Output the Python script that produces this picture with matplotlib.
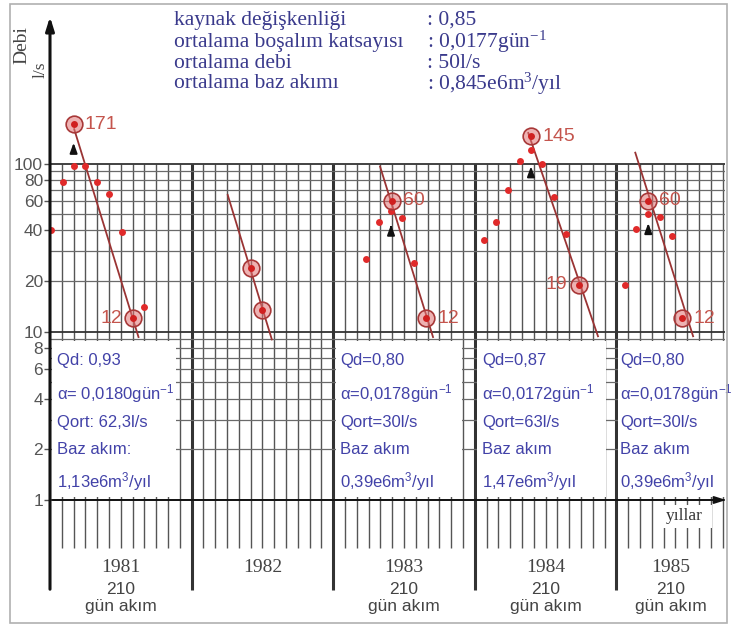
import numpy as np
import matplotlib
matplotlib.use("Agg")
import matplotlib.pyplot as plt
from matplotlib.patches import Rectangle

plt.rcParams['mathtext.default'] = 'regular'

# ---------------- data ----------------
years = ['1981', '1982', '1983', '1984', '1985']
year_note = ['210\ngün akım', '', '210\ngün akım', '210\ngün akım', '210\ngün akım']

# months counted from the start of 1981
dot_month = [0.1, 1.1, 2.0, 3.0, 4.0, 5.0, 6.1, 8.0,
             26.8, 27.9, 28.9, 29.8, 30.85,
             36.8, 37.8, 38.84, 39.83, 40.76, 41.7, 42.7, 43.7,
             48.7, 49.7, 50.7, 51.7, 52.7]
dot_value = [40, 78, 97, 96, 78, 66, 39, 14.1,
             27, 45, 52, 47.5, 25.6,
             35, 45, 70, 103, 120, 99, 63, 38,
             19, 41, 50, 48, 37]

circle_month = [2.0, 7.05, 17.0, 18.0, 28.96, 31.9, 40.76, 44.8, 50.7, 53.6]
circle_value = [171, 12, 24, 13.5, 60, 12, 145, 19, 60, 12]
circle_label = ['171', '12', '', '', '60', '12', '145', '19', '60', '12']
label_side = ['right', 'left', '', '', 'right', 'right', 'right', 'left', 'right', 'right']

line_start_month = [2.05, 15.06, 27.97, 40.53, 49.6]
line_start_value = [160, 65, 96, 152, 116]
line_end_month = [7.5, 18.8, 32.46, 46.44, 54.5]
line_end_value = [9.3, 9.0, 9.3, 9.4, 9.4]

arrow_month = [2.0, 28.9, 40.76, 50.7]
arrow_from = [112, 39, 83, 38.5]
arrow_to = [138, 45, 100, 46]

summary_labels = ['kaynak değişkenliği', 'ortalama boşalım katsayısı',
                  'ortalama debi', 'ortalama baz akımı']
summary_values = [': 0,85', ': 0,0177gün$^{-1}$', ': 50l/s', ': 0,845e6m$^{3}$/yıl']

box_year = [0, 2, 3, 4]
box_qd = ['Qd: 0,93', 'Qd=0,80', 'Qd=0,87', 'Qd=0,80']
box_alpha = ['α= 0,0180gün$^{-1}$', 'α=0,0178gün$^{-1}$', 'α=0,0172gün$^{-1}$', 'α=0,0178gün$^{-1}$']
box_qort = ['Qort: 62,3l/s', 'Qort=30l/s', 'Qort=63l/s', 'Qort=30l/s']
box_baz = ['Baz akım:', 'Baz akım', 'Baz akım', 'Baz akım']
box_bazval = ['1,13e6m$^{3}$/yıl', '0,39e6m$^{3}$/yıl', '1,47e6m$^{3}$/yıl', '0,39e6m$^{3}$/yıl']

ytick_values = [1, 2, 4, 6, 8, 10, 20, 40, 60, 80, 100]
ytick_labels = ['1', '2', '4', '6', '8', '10', '20', '40', '60', '80', '100']

# ---------------- layout ----------------
W, H, DPI = 733, 628, 100
X0, MPX, NM = 50.0, 11.8, 57.2      # px of month 0, px per month, months shown
Y100, DEC = 163.5, 168.25           # px of value 100, px per decade
SERIF = 'Liberation Serif'
SANS = 'Liberation Sans'
BLUE_TOP = '#3a3a8c'
BLUE_BOX = '#4242a8'
RED_TXT = '#c4554d'

def val_at(py):
    return 10 ** (2 - (py - Y100) / DEC)

def month_at(px):
    return (px - X0) / MPX

def fx(px):
    return px / W

def fy(py):
    return 1 - py / H

fig = plt.figure(figsize=(W / DPI, H / DPI), dpi=DPI)
fig.patch.set_facecolor('white')
AX_T, AX_B = 8, 600
ax = fig.add_axes([fx(X0), fy(AX_B), (NM * MPX) / W, (AX_B - AX_T) / H])
ax.set_yscale('log')
ax.set_xlim(0, NM)
ax.set_ylim(val_at(AX_B), val_at(AX_T))
for s in ax.spines.values():
    s.set_visible(False)
ax.set_facecolor('none')
ax.set_xticks([])
ax.yaxis.set_minor_locator(matplotlib.ticker.NullLocator())
ax.set_yticks(ytick_values)
ax.set_yticklabels(ytick_labels, fontfamily=SANS, fontsize=12.5, color='#555555')
ax.tick_params(axis='y', length=4, width=1, color='#555555', pad=1)

# frame
fig.add_artist(Rectangle((fx(10), fy(623)), (727 - 10) / W, (623 - 4) / H,
                         transform=fig.transFigure, fill=False, ec='#b0b0b0', lw=1.2))

# ---------------- grid ----------------
n_months = int(np.floor(NM))
for m in range(1, n_months + 1):
    if m % 12 == 0:
        ax.vlines(m, val_at(590), 100, color='#333333', lw=2.2, zorder=1)
    else:
        ax.vlines(m, val_at(548), 100, color='#555555', lw=1.0, zorder=1)
hvals = list(range(1, 10)) + list(range(10, 101, 10))
for v in hvals:
    dark = v in (1, 10, 100)
    ax.hlines(v, 0, NM, color='#333333' if dark else '#6a6a6a',
              lw=1.3 if dark else 0.9, zorder=1)

# y axis arrow
ax.annotate('', xy=(0, val_at(14)), xytext=(0, val_at(592)),
            arrowprops=dict(arrowstyle='-|>,head_length=0.8,head_width=0.25', color='#111111', lw=2.2),
            annotation_clip=False, zorder=6)
# x axis arrow
ax.annotate('', xy=(month_at(729), 1), xytext=(0, 1),
            arrowprops=dict(arrowstyle='-|>,head_length=0.7,head_width=0.22', color='#111111', lw=1.3),
            annotation_clip=False, zorder=6)

# ---------------- white boxes ----------------
box_left_px = [52, 336, 477, 618]
box_right_px = [176, 462, 606, 726]
BOX_T, BOX_B = 341, 497
for bl, br in zip(box_left_px, box_right_px):
    ax.add_patch(Rectangle((month_at(bl), val_at(BOX_B)), month_at(br) - month_at(bl),
                           val_at(BOX_T) - val_at(BOX_B), fc='white', ec='none', zorder=2,
                           clip_on=False))
text_left_px = [57, 340, 482, 620]
line_px = [361, 394, 422, 449, 482]
for i, yi in enumerate(box_year):
    tx = month_at(text_left_px[i])
    rows = [box_qd[i], box_alpha[i], box_qort[i], box_baz[i], box_bazval[i]]
    for r, py in zip(rows, line_px):
        ax.text(tx, val_at(py), r, fontfamily=SANS, fontsize=12, color=BLUE_BOX,
                ha='left', va='center', zorder=3, clip_on=False)

# yıllar label
ax.add_patch(Rectangle((month_at(656), val_at(528)), month_at(712) - month_at(656),
                       val_at(505) - val_at(528), fc='white', ec='none', zorder=2))
ax.text(month_at(684), val_at(516), 'yıllar', fontfamily=SERIF, fontsize=12.5,
        color='#333333', ha='center', va='center', zorder=3)

# ---------------- year labels ----------------
for k, y in enumerate(years):
    start = 12 * k
    end = min(12 * (k + 1), NM)
    cx = (start + end) / 2
    ax.text(cx, val_at(567), y, fontfamily=SERIF, fontsize=14, color='#444444',
            ha='center', va='center', zorder=3, clip_on=False)
    if year_note[k]:
        a, b = year_note[k].split('\n')
        ax.text(cx, val_at(590), a, fontfamily=SANS, fontsize=12.5, color='#444444',
                ha='center', va='center', zorder=3, clip_on=False)
        ax.text(cx, val_at(607), b, fontfamily=SANS, fontsize=12.5, color='#444444',
                ha='center', va='center', zorder=3, clip_on=False)

# ---------------- data ----------------
for sm, sv, em, ev in zip(line_start_month, line_start_value, line_end_month, line_end_value):
    ax.plot([sm, em], [sv, ev], color='#9a3434', lw=1.3, zorder=4)
ax.plot(dot_month, dot_value, 'o', ms=5, color='#e02a2a', mec='none', zorder=5)
ax.plot(circle_month, circle_value, 'o', ms=12, mfc=(0.88, 0.45, 0.45, 0.55),
        mec='#a83838', mew=1.2, zorder=5)
ax.plot(circle_month, circle_value, 'o', ms=5, color='#d02020', mec='none', zorder=6)
for m, v, lab, side in zip(circle_month, circle_value, circle_label, label_side):
    if not lab:
        continue
    off = 8 if side == 'right' else -8
    ax.annotate(lab, (m, v), xytext=(off, 0), textcoords='offset points',
                ha='left' if side == 'right' else 'right', va='center',
                fontfamily=SANS, fontsize=14, color=RED_TXT, zorder=6)
for m, a, b in zip(arrow_month, arrow_from, arrow_to):
    ax.annotate('', xy=(m, b), xytext=(m, a),
                arrowprops=dict(arrowstyle='-|>,head_length=0.6,head_width=0.22',
                                color='#111111', lw=1.4), zorder=6)

# ---------------- top texts ----------------
top_py = [20, 42, 63, 84]
for lab, val, py in zip(summary_labels, summary_values, top_py):
    fig.text(fx(174), fy(py), lab, fontfamily=SERIF, fontsize=15.5, color=BLUE_TOP,
             ha='left', va='center')
    fig.text(fx(427), fy(py), val, fontfamily=SERIF, fontsize=15.5, color=BLUE_TOP,
             ha='left', va='center')

fig.text(fx(22), fy(45), 'Debi', fontfamily=SERIF, fontsize=14, color='#444444',
         rotation=90, ha='center', va='center')
fig.text(fx(41), fy(70), 'l/s', fontfamily=SERIF, fontsize=12.5, color='#444444',
         rotation=90, ha='center', va='center')

fig.savefig('out.png', dpi=DPI)
